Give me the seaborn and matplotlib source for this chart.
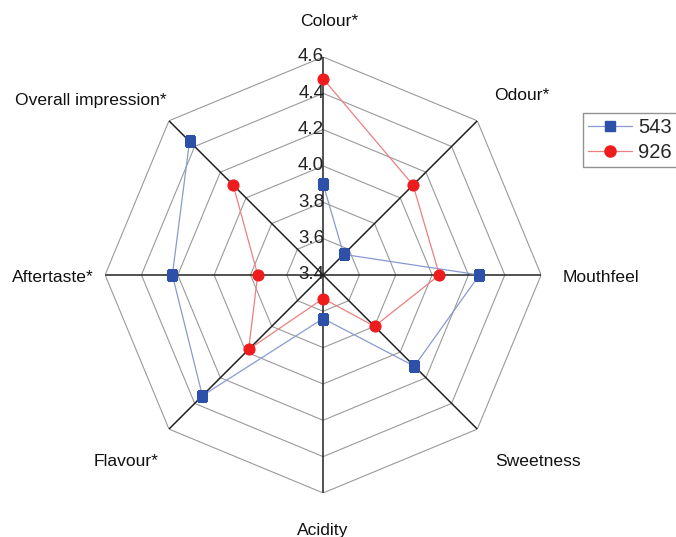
import numpy as np
import pandas as pd
import matplotlib.pyplot as plt
import matplotlib.transforms as mtrans
from matplotlib.lines import Line2D
import seaborn as sns

# attributes going clockwise from the top
attributes = ['Colour*', 'Odour*', 'Mouthfeel', 'Sweetness', 'Acidity',
              'Flavour*', 'Aftertaste*', 'Overall impression*']
s543 = [3.90, 3.56, 4.26, 4.11, 3.64, 4.34, 4.23, 4.44]
s926 = [4.48, 4.10, 4.04, 3.80, 3.53, 3.98, 3.76, 4.10]
rticks = [3.4, 3.6, 3.8, 4.0, 4.2, 4.4, 4.6]

# where the attribute names sit (pixels, from top left)
label_pos = [(329, 22), (522, 95), (601, 277), (538, 461),
             (323, 530), (126, 461), (53, 277), (91, 101)]

sns.set_style('white')
plt.rcParams['font.family'] = ['Liberation Sans', 'DejaVu Sans']

W, H = 676, 537
fig = plt.figure(figsize=(W / 100, H / 100), dpi=100)
ax = fig.add_axes([0.1555, 0.082, 0.645, 0.812], projection='polar')
ax.set_theta_offset(np.pi / 2)
ax.set_theta_direction(-1)
ax.set_ylim(3.4, 4.6)
ax.set_xticks([])
ax.set_yticks([])
ax.grid(False)
ax.spines['polar'].set_visible(False)
ax.set_facecolor('none')

n = len(attributes)
angles = np.arange(n) * 2 * np.pi / n
closed = np.append(angles, angles[0])

# octagon grid
for r in rticks[1:]:
    ax.plot(closed, [r] * (n + 1), color='#9a9a9a', lw=0.8, zorder=1)
# spokes
for a in angles:
    ax.plot([a, a], [3.4, 4.6], color='#222222', lw=1.1, zorder=2)

df = pd.DataFrame({
    'angle': np.concatenate([closed, closed]),
    'value': s543 + [s543[0]] + s926 + [s926[0]],
    'sample': ['543'] * (n + 1) + ['926'] * (n + 1),
})

sns.lineplot(data=df[df['sample'] == '543'], x='angle', y='value', sort=False,
             ax=ax, color='#8a9ad0', lw=0.9, marker='s', markersize=7,
             markerfacecolor='#2d50a8', markeredgecolor='#2d50a8', zorder=4)
sns.lineplot(data=df[df['sample'] == '926'], x='angle', y='value', sort=False,
             ax=ax, color='#ec8080', lw=0.9, marker='o', markersize=8,
             markerfacecolor='#ee1c1c', markeredgecolor='#ee1c1c', zorder=5)
ax.set_xlabel('')
ax.set_ylabel('')
ax.set_ylim(3.4, 4.6)

# radial tick labels along the Colour axis
off = mtrans.offset_copy(ax.transData, fig=fig, x=1, y=0, units='dots')
for r in rticks:
    ax.text(0, r, f'{r:.1f}', transform=off, ha='right', va='center',
            fontsize=13.5, color='#222222', zorder=6)

for name, (px, py) in zip(attributes, label_pos):
    fig.text(px / W, 1 - py / H, name, ha='center', va='center',
             fontsize=12.6, color='#111111')

handles = [
    Line2D([], [], color='#8a9ad0', lw=0.9, marker='s', markersize=7,
           markerfacecolor='#2d50a8', markeredgecolor='#2d50a8'),
    Line2D([], [], color='#ec8080', lw=0.9, marker='o', markersize=8,
           markerfacecolor='#ee1c1c', markeredgecolor='#ee1c1c'),
]
leg = fig.legend(handles, ['543', '926'], loc='upper left',
                 bbox_to_anchor=(583 / W, 1 - 113 / H), fontsize=14.5,
                 frameon=True, fancybox=False, edgecolor='#777777',
                 handlelength=2.2, borderpad=0.25, labelspacing=0.3,
                 handletextpad=0.3, borderaxespad=0)
leg.get_frame().set_linewidth(1.0)

fig.savefig('out.png', dpi=100)
